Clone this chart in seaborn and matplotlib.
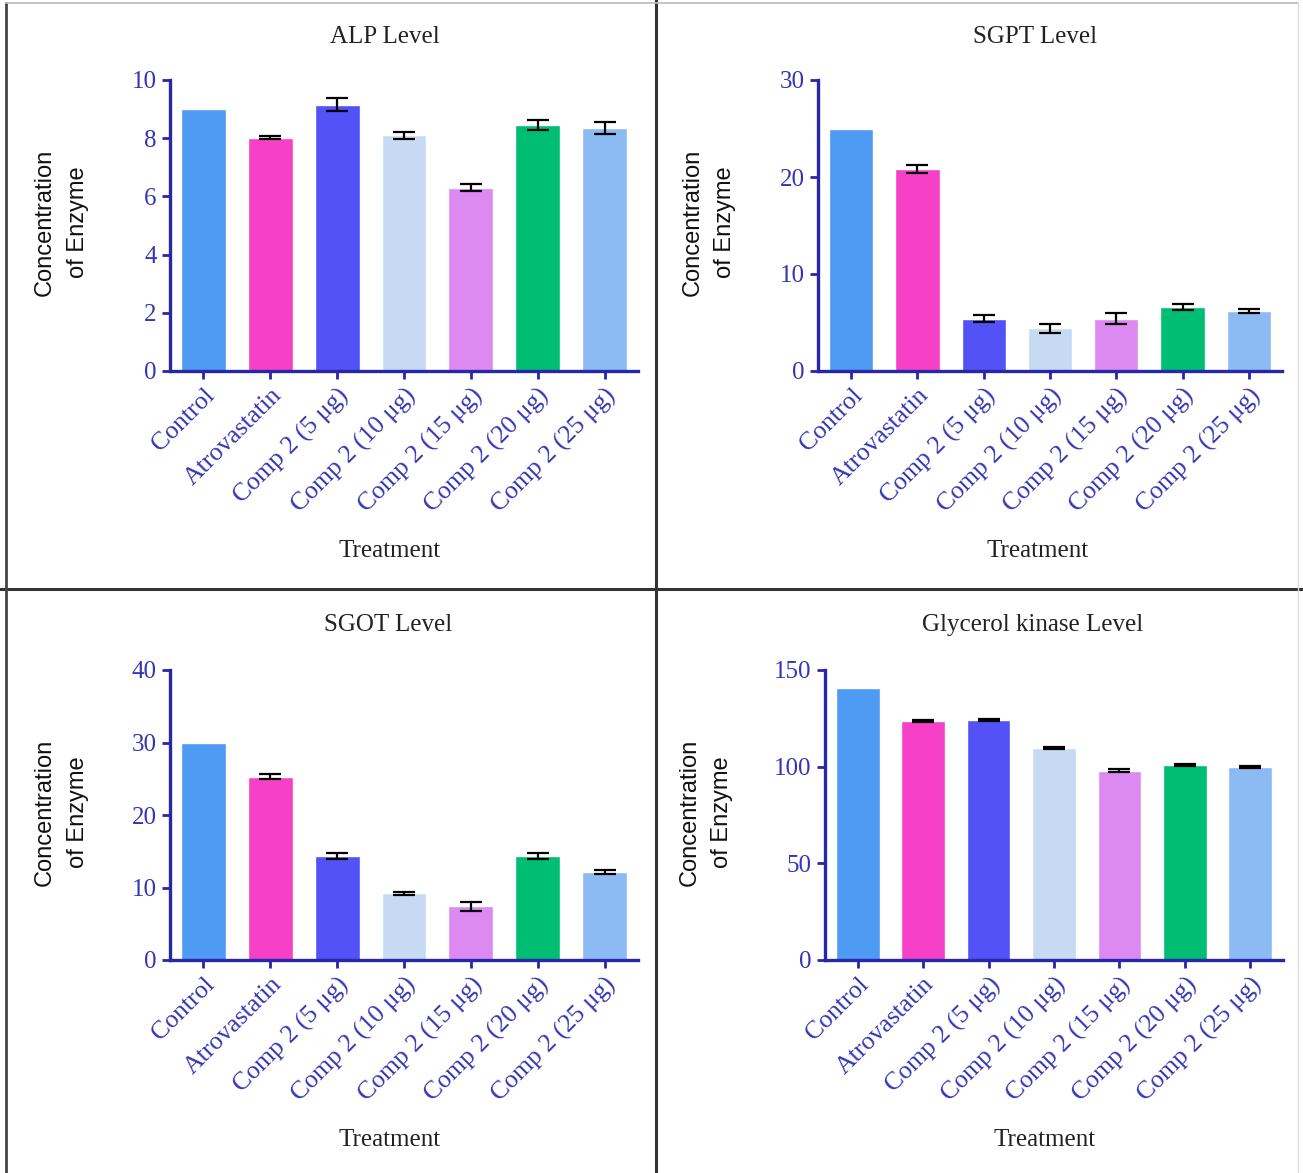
import matplotlib
matplotlib.use("Agg")
import matplotlib.pyplot as plt
from matplotlib.lines import Line2D
import seaborn as sns
import pandas as pd

categories = ["Control", "Atrovastatin", "Comp 2 (5 μg)", "Comp 2 (10 μg)",
              "Comp 2 (15 μg)", "Comp 2 (20 μg)", "Comp 2 (25 μg)"]
colors = ["#4d9bf3", "#f740c8", "#5252f7", "#c6dbf3", "#dc8af2", "#00bd74", "#8cbaf2"]

alp_vals = [9.0, 8.02, 9.15, 8.1, 6.3, 8.45, 8.35]
alp_err = [0.0, 0.05, 0.22, 0.13, 0.13, 0.18, 0.2]
sgpt_vals = [25.0, 20.8, 5.4, 4.4, 5.4, 6.6, 6.2]
sgpt_err = [0.0, 0.4, 0.4, 0.45, 0.55, 0.3, 0.2]
sgot_vals = [30.0, 25.3, 14.3, 9.2, 7.4, 14.3, 12.1]
sgot_err = [0.0, 0.35, 0.4, 0.2, 0.6, 0.4, 0.3]
gk_vals = [140.5, 123.5, 124.0, 109.5, 98.0, 101.0, 100.0]
gk_err = [0.0, 0.5, 0.5, 0.5, 1.0, 0.6, 0.5]

panels = [
    ("ALP Level", alp_vals, alp_err, 10, [0, 2, 4, 6, 8, 10]),
    ("SGPT Level", sgpt_vals, sgpt_err, 30, [0, 10, 20, 30]),
    ("SGOT Level", sgot_vals, sgot_err, 40, [0, 10, 20, 30, 40]),
    ("Glycerol kinase Level", gk_vals, gk_err, 150, [0, 50, 100, 150]),
]

sns.set_theme(style="white")
plt.rcParams["font.family"] = ["Liberation Serif", "DejaVu Serif"]

W, H = 1303, 1173
fig = plt.figure(figsize=(W / 100, H / 100), dpi=100)

# axes rectangles in pixels: left, right, top, bottom
rects = [(170, 638, 80, 371), (818, 1282, 80, 371),
         (170, 638, 670, 960), (825, 1283, 670, 960)]
title_pos = [(385, 37), (1035, 37), (388, 625), (1033, 625)]
xlabel_pos = [(390, 551), (1038, 551), (390, 1140), (1045, 1140)]
ylabel_x = [(45, 78), (693, 725), (45, 78), (690, 722)]
ylabel_y = [222, 222, 812, 812]

navy = "#2727a8"
tickc = "#3535b5"

for i, (title, vals, errs, ymax, yt) in enumerate(panels):
    l, r, t, b = rects[i]
    ax = fig.add_axes([l / W, 1 - b / H, (r - l) / W, (b - t) / H])
    df = pd.DataFrame({"Treatment": categories, "Value": vals})
    sns.barplot(data=df, x="Treatment", y="Value", hue="Treatment",
                palette=colors, order=categories, hue_order=categories,
                width=0.67, legend=False, ax=ax, saturation=1)
    idx = [k for k, e in enumerate(errs) if e > 0]
    ax.errorbar(idx, [vals[k] for k in idx], yerr=[errs[k] for k in idx], fmt="none",
                ecolor="black", elinewidth=1.6, capsize=8, capthick=1.6, zorder=5)
    ax.set_xlim(-0.5, 6.5)
    ax.set_ylim(0, ymax)
    ax.set_yticks(yt)
    ax.set_xlabel("")
    ax.set_ylabel("")
    for s in ["top", "right"]:
        ax.spines[s].set_visible(False)
    for s in ["left", "bottom"]:
        ax.spines[s].set_color(navy)
        ax.spines[s].set_linewidth(2.4)
    ax.tick_params(axis="both", colors=navy, width=2, length=6, direction="out",
                   bottom=True, left=True, labelcolor=tickc)
    ax.tick_params(axis="y", labelsize=18)
    ax.set_xticks(range(len(categories)))
    ax.set_xticklabels(categories, rotation=45, ha="right", rotation_mode="anchor",
                       fontsize=18.5, color=tickc)
    ax.patch.set_alpha(0)

    tx, ty = title_pos[i]
    fig.text(tx / W, 1 - ty / H, title, ha="center", va="center", fontsize=18, color="#222222")
    xx, xy = xlabel_pos[i]
    fig.text(xx / W, 1 - xy / H, "Treatment", ha="center", va="center", fontsize=18, color="#222222")
    cy = ylabel_y[i]
    x1, x2 = ylabel_x[i]
    fig.text(x1 / W, 1 - cy / H, "Concentration", rotation=90, ha="center", va="center",
             fontsize=17, color="#111111", family=["Liberation Sans", "DejaVu Sans"])
    fig.text(x2 / W, 1 - cy / H, "of Enzyme", rotation=90, ha="center", va="center",
             fontsize=17, color="#111111", family=["Liberation Sans", "DejaVu Sans"])

# panel divider lines and border
def hline(y, x0, x1, c, lw):
    fig.add_artist(Line2D([x0 / W, x1 / W], [1 - y / H, 1 - y / H], color=c, lw=lw))

def vline(x, y0, y1, c, lw):
    fig.add_artist(Line2D([x / W, x / W], [1 - y0 / H, 1 - y1 / H], color=c, lw=lw))

vline(656, 0, H, "#333333", 2.2)
hline(589, 0, W, "#333333", 2.2)
vline(6, 3, H, "#444444", 2.0)
hline(3, 6, 1298, "#bbbbbb", 1.2)
vline(1298, 3, H, "#dddddd", 1.0)

fig.savefig("out.png", dpi=100)
